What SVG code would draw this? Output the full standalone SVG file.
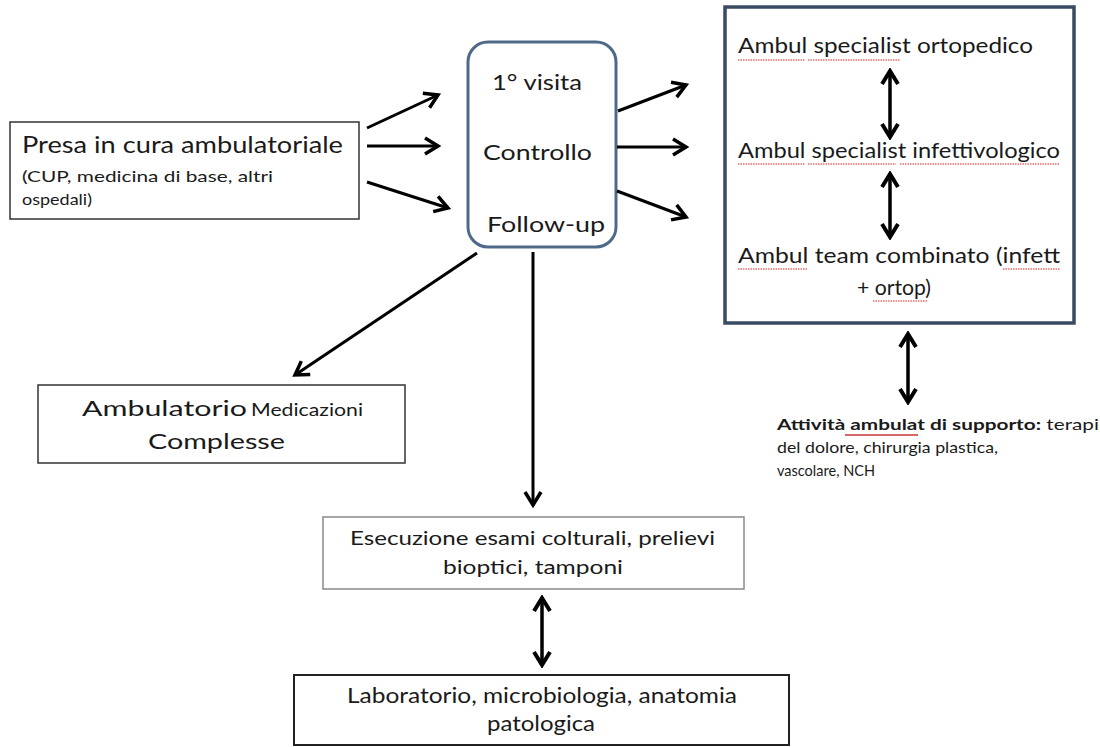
<svg xmlns="http://www.w3.org/2000/svg" width="1100" height="747" viewBox="0 0 1100 747">
<style>
text{font-family:Lato,"Liberation Sans",sans-serif;fill:#1a1a1a}
.box{fill:#fff;stroke:#333;stroke-width:1.5}
.ln{stroke:#000;stroke-width:3;fill:none;marker-end:url(#ah)}
.dbl{stroke:#000;stroke-width:3.5;fill:none;marker-end:url(#ah2);marker-start:url(#ah2s)}
.sp{stroke:#d22;stroke-width:1.2;fill:none;stroke-dasharray:1.5 1}
</style>
<defs>
<marker id="ah" markerUnits="userSpaceOnUse" viewBox="-16 -11 19 22" refX="0" refY="0" markerWidth="19" markerHeight="22" orient="auto">
<path d="M-13,-8 L0,0 L-13,8" fill="none" stroke="#000" stroke-width="3.5"/>
</marker>
<marker id="ah2" markerUnits="userSpaceOnUse" viewBox="-16 -11 19 22" refX="0" refY="0" markerWidth="19" markerHeight="22" orient="auto">
<path d="M-13,-8 L0,0 L-13,8" fill="none" stroke="#000" stroke-width="4"/>
</marker>
<marker id="ah2s" markerUnits="userSpaceOnUse" viewBox="-16 -11 19 22" refX="0" refY="0" markerWidth="19" markerHeight="22" orient="auto-start-reverse">
<path d="M-13,-8 L0,0 L-13,8" fill="none" stroke="#000" stroke-width="4"/>
</marker>
</defs>
<rect width="1100" height="747" fill="#fff"/>

<g id="presa">
<rect class="box" x="10" y="122" width="349" height="97"/>
<text x="22" y="153" font-size="23" textLength="321" lengthAdjust="spacingAndGlyphs">Presa in cura ambulatoriale</text>
<text x="22" y="182" font-size="16" textLength="251" lengthAdjust="spacingAndGlyphs">(CUP, medicina di base, altri</text>
<text x="22" y="205" font-size="16" textLength="70" lengthAdjust="spacingAndGlyphs">ospedali)</text>
</g>

<g id="visita">
<rect x="468" y="42" width="148" height="205" rx="20" ry="20" fill="#fff" stroke="#4e6a88" stroke-width="3"/>
<text x="492" y="90" font-size="22" textLength="90" lengthAdjust="spacingAndGlyphs">1° visita</text>
<text x="483" y="160" font-size="22" textLength="109" lengthAdjust="spacingAndGlyphs">Controllo</text>
<text x="487" y="232" font-size="22" textLength="118" lengthAdjust="spacingAndGlyphs">Follow-up</text>
</g>

<g id="specialisti">
<rect x="725" y="7" width="349" height="316" fill="#fff" stroke="#3a4a62" stroke-width="3.5"/>
<text x="738" y="53" font-size="21.5" textLength="295" lengthAdjust="spacingAndGlyphs">Ambul specialist  ortopedico</text>
<text x="738" y="158" font-size="21.5" textLength="322" lengthAdjust="spacingAndGlyphs">Ambul specialist infettivologico</text>
<text x="738" y="263" font-size="21.5" textLength="322" lengthAdjust="spacingAndGlyphs">Ambul  team combinato (infett</text>
<text x="857" y="295" font-size="21.5" textLength="74" lengthAdjust="spacingAndGlyphs">+ ortop)</text>
<path class="sp" d="M738,60 H805 M808,60 H900 M738,164 H805 M808,164 H896 M900,164 H1060 M738,269 H807 M1003,269 H1060 M873,301 H928"/>
</g>

<g id="supporto">
<text x="777" y="430" font-size="16" textLength="322" lengthAdjust="spacingAndGlyphs"><tspan font-weight="bold">Attività ambulat di supporto:</tspan> terapi</text>
<text x="777" y="453" font-size="16" textLength="221" lengthAdjust="spacingAndGlyphs">del dolore, chirurgia plastica,</text>
<text x="777" y="476" font-size="16" textLength="98" lengthAdjust="spacingAndGlyphs">vascolare, NCH</text>
<path d="M845,435 H918" stroke="#c33" stroke-width="1.3"/>
</g>

<g id="medicazioni">
<rect class="box" x="38" y="385" width="367" height="78"/>
<text x="82" y="416" font-size="21" textLength="165" lengthAdjust="spacingAndGlyphs">Ambulatorio</text>
<text x="251" y="416" font-size="17.5" textLength="112" lengthAdjust="spacingAndGlyphs">Medicazioni</text>
<text x="148" y="449" font-size="21" textLength="137" lengthAdjust="spacingAndGlyphs">Complesse</text>
</g>

<g id="esami">
<rect x="323" y="517" width="421" height="72" fill="#fff" stroke="#888" stroke-width="1.5"/>
<text x="350" y="545" font-size="19.5" textLength="365" lengthAdjust="spacingAndGlyphs">Esecuzione esami colturali, prelievi</text>
<text x="443" y="574" font-size="19.5" textLength="180" lengthAdjust="spacingAndGlyphs">bioptici, tamponi</text>
</g>

<g id="laboratorio">
<rect x="294" y="675" width="495" height="70" fill="#fff" stroke="#222" stroke-width="2"/>
<text x="347" y="703" font-size="21" textLength="390" lengthAdjust="spacingAndGlyphs">Laboratorio, microbiologia, anatomia</text>
<text x="487" y="731" font-size="21" textLength="108" lengthAdjust="spacingAndGlyphs">patologica</text>
</g>

<g id="connectors">
<line class="ln" x1="367" y1="128" x2="438" y2="95"/>
<line class="ln" x1="367" y1="146" x2="438" y2="146"/>
<line class="ln" x1="367" y1="182" x2="448" y2="208"/>
<line class="ln" x1="618" y1="111" x2="686" y2="85"/>
<line class="ln" x1="617" y1="147" x2="686" y2="147"/>
<line class="ln" x1="617" y1="191" x2="686" y2="217"/>
<line class="ln" x1="477" y1="253" x2="295" y2="375"/>
<line class="ln" x1="533" y1="252" x2="533" y2="505"/>
<line class="dbl" x1="890" y1="71" x2="890" y2="137"/>
<line class="dbl" x1="890" y1="174" x2="890" y2="237"/>
<line class="dbl" x1="908" y1="334" x2="908" y2="402"/>
<line class="dbl" x1="542" y1="598" x2="542" y2="665"/>
</g>
</svg>
